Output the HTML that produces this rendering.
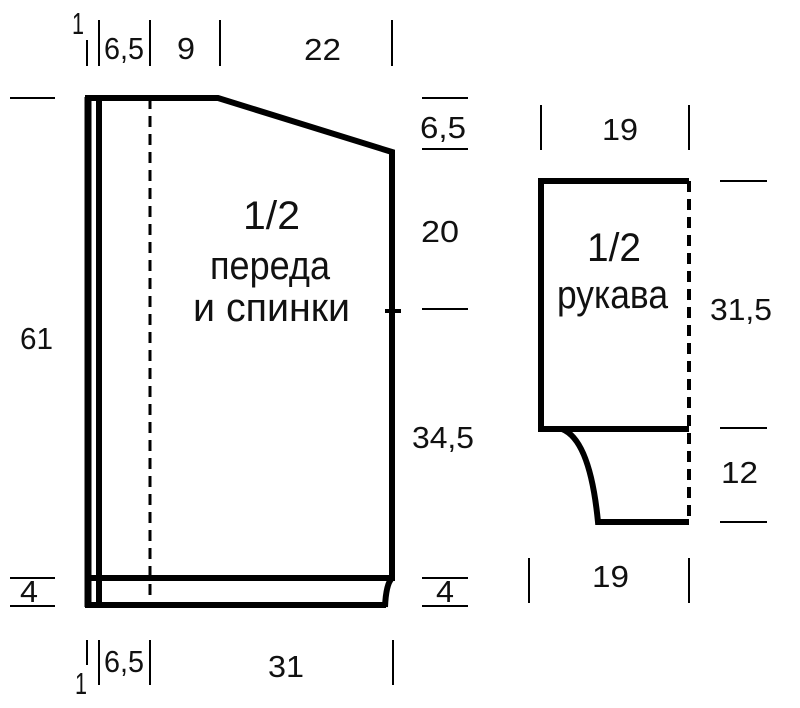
<!DOCTYPE html>
<html><head><meta charset="utf-8"><style>
html,body{margin:0;padding:0;background:#fff;}
svg text{font-family:"Liberation Sans",sans-serif;fill:#111;}
</style></head><body>
<svg width="800" height="703" viewBox="0 0 800 703" xmlns="http://www.w3.org/2000/svg">
<g stroke="#000" fill="none" stroke-linecap="butt">
<line x1="88" y1="97" x2="88" y2="607" stroke-width="7"/>
<line x1="99" y1="97" x2="99" y2="607" stroke-width="6"/>
<polyline points="85,98 218,98 392,152 392,578" stroke-width="6" stroke-linejoin="miter"/>
<line x1="85" y1="578" x2="395" y2="578" stroke-width="6"/>
<line x1="85" y1="605" x2="386" y2="605" stroke-width="6"/>
<path d="M392,578 Q386,584 385,607" stroke-width="6"/>
<line x1="150" y1="98" x2="150" y2="605" stroke-width="3" stroke-dasharray="11,7"/>
<line x1="385" y1="311" x2="401" y2="311" stroke-width="4"/>
<polyline points="689,181 541,181 541,429 689,429" stroke-width="6"/>
<line x1="689" y1="181" x2="689" y2="522" stroke-width="4" stroke-dasharray="11,7"/>
<path d="M562,429 Q590,440 598,522 L689,522" stroke-width="6"/>
<g stroke-width="2">
<line x1="10" y1="98" x2="55" y2="98"/>
<line x1="10" y1="578" x2="55" y2="578"/>
<line x1="10" y1="606" x2="55" y2="606"/>
<line x1="422" y1="98" x2="468" y2="98"/>
<line x1="422" y1="149" x2="468" y2="149"/>
<line x1="422" y1="309" x2="468" y2="309"/>
<line x1="422" y1="578" x2="468" y2="578"/>
<line x1="422" y1="606" x2="468" y2="606"/>
<line x1="720" y1="181" x2="767" y2="181"/>
<line x1="720" y1="428" x2="767" y2="428"/>
<line x1="720" y1="522" x2="767" y2="522"/>
<line x1="87" y1="40" x2="87" y2="66"/>
<line x1="99" y1="20" x2="99" y2="66"/>
<line x1="150" y1="20" x2="150" y2="66"/>
<line x1="220" y1="20" x2="220" y2="66"/>
<line x1="392" y1="20" x2="392" y2="66"/>
<line x1="87" y1="640" x2="87" y2="665"/>
<line x1="99" y1="640" x2="99" y2="685"/>
<line x1="150" y1="640" x2="150" y2="685"/>
<line x1="393" y1="640" x2="393" y2="685"/>
<line x1="541" y1="105" x2="541" y2="150"/>
<line x1="689" y1="105" x2="689" y2="150"/>
<line x1="529" y1="558" x2="529" y2="603"/>
<line x1="689" y1="558" x2="689" y2="603"/>
</g>
</g>
<g font-size="31">
<text x="72" y="34" textLength="12" lengthAdjust="spacingAndGlyphs">1</text>
<text x="104" y="59" textLength="40" lengthAdjust="spacingAndGlyphs">6,5</text>
<text x="177" y="59" textLength="18" lengthAdjust="spacingAndGlyphs">9</text>
<text x="304" y="60" textLength="37" lengthAdjust="spacingAndGlyphs">22</text>
<text x="420" y="138" textLength="46" lengthAdjust="spacingAndGlyphs">6,5</text>
<text x="421" y="242" textLength="38" lengthAdjust="spacingAndGlyphs">20</text>
<text x="412" y="448" textLength="62" lengthAdjust="spacingAndGlyphs">34,5</text>
<text x="20" y="349" textLength="33" lengthAdjust="spacingAndGlyphs">61</text>
<text x="20" y="602" textLength="18" lengthAdjust="spacingAndGlyphs">4</text>
<text x="436" y="602" textLength="18" lengthAdjust="spacingAndGlyphs">4</text>
<text x="104" y="672" textLength="40" lengthAdjust="spacingAndGlyphs">6,5</text>
<text x="75" y="694" textLength="12" lengthAdjust="spacingAndGlyphs">1</text>
<text x="268" y="677" textLength="36" lengthAdjust="spacingAndGlyphs">31</text>
<text x="602" y="140" textLength="36" lengthAdjust="spacingAndGlyphs">19</text>
<text x="710" y="320" textLength="62" lengthAdjust="spacingAndGlyphs">31,5</text>
<text x="721" y="483" textLength="37" lengthAdjust="spacingAndGlyphs">12</text>
<text x="592" y="587" textLength="37" lengthAdjust="spacingAndGlyphs">19</text>
</g>
<g font-size="40">
<text x="243" y="229" textLength="57" lengthAdjust="spacingAndGlyphs">1/2</text>
<text x="210" y="279" textLength="120" lengthAdjust="spacingAndGlyphs">переда</text>
<text x="193" y="321" textLength="157" lengthAdjust="spacingAndGlyphs">и спинки</text>
<text x="587" y="261" textLength="54" lengthAdjust="spacingAndGlyphs">1/2</text>
<text x="557" y="308" textLength="111" lengthAdjust="spacingAndGlyphs">рукава</text>
</g>
</svg>
</body></html>
